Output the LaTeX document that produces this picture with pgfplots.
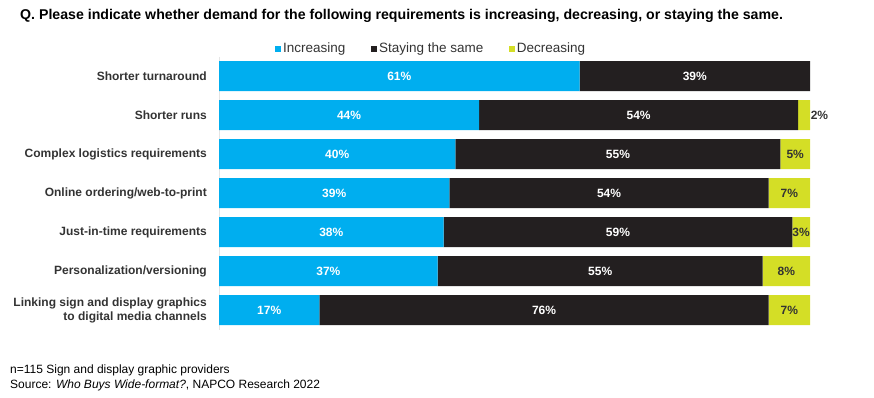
\documentclass[border=0pt]{standalone}
\usepackage{fontspec}
\setmainfont{Liberation Sans}
\usepackage{pgfplots}
\usepackage{pgfplotstable}
\pgfplotsset{compat=1.18}
\definecolor{cInc}{HTML}{00AEEF}
\definecolor{cSame}{HTML}{231F20}
\definecolor{cDec}{HTML}{D4DE26}
\definecolor{cTxt}{HTML}{333333}

% y: row (0 = top); inc / same / dec percentages
\pgfplotstableread{
y inc same dec
0 61 39 0
1 44 54 2
2 40 55 5
3 39 54 7
4 38 59 3
5 37 55 8
6 17 76 7
}\data
% label positions (centre of each segment, in %)
\pgfplotstableread{
y x lab
0 30.5 61\%
1 22 44\%
2 20 40\%
3 19.5 39\%
4 19 38\%
5 18.5 37\%
6 8.5 17\%
0 80.5 39\%
1 71 54\%
2 67.5 55\%
3 66 54\%
4 67.5 59\%
5 64.5 55\%
6 55 76\%
}\whitelab
\pgfplotstableread{
y x lab
1 101.6 2\%
2 97.5 5\%
3 96.5 7\%
4 98.5 3\%
5 96 8\%
6 96.5 7\%
}\darklab

\begin{document}
\begin{tikzpicture}
\path[use as bounding box] (0,0) rectangle (874pt,-398pt);
\node[anchor=base west, font=\bfseries\fontsize{14.15}{16}\selectfont, inner sep=0] at (20pt,-20pt)
  {Q. Please indicate whether demand for the following requirements is increasing, decreasing, or staying the same.};
\begin{axis}[
  at={(219pt,-56.5pt)}, anchor=north west,
  scale only axis, width=591pt, height=273pt,
  xbar stacked, bar width=30pt,
  xmin=0, xmax=100, ymin=-0.5, ymax=6.5, y dir=reverse,
  hide x axis,
  axis y line*=left, y axis line style={draw=gray!20},
  ytick={0,...,6},
  yticklabels={Shorter turnaround, Shorter runs, Complex logistics requirements, Online ordering/web-to-print, Just-in-time requirements, Personalization/versioning, {Linking sign and display graphics\\to digital media channels}},
  yticklabel style={align=right, font=\bfseries\fontsize{12}{14}\selectfont, text=cTxt, inner sep=0pt, xshift=-12pt},
  major tick length=0pt,
  legend style={at={(0.359,1.028)}, anchor=center, legend columns=3, draw=none, fill=none,
    font=\fontsize{13.5}{15}\selectfont, text=cTxt,
    /tikz/every even column/.append style={column sep=23.5pt}},
  legend image code/.code={\fill[#1] (0pt,-3pt) rectangle (6pt,3pt);},
]
\addplot[fill=cInc, draw=none] table[x=inc, y=y] {\data};
\addlegendentry{Increasing}
\addplot[fill=cSame, draw=none] table[x=same, y=y] {\data};
\addlegendentry{Staying the same}
\addplot[fill=cDec, draw=none] table[x=dec, y=y] {\data};
\addlegendentry{Decreasing}
\end{axis}
\begin{axis}[
  at={(219pt,-56.5pt)}, anchor=north west,
  scale only axis, width=591pt, height=273pt,
  xmin=0, xmax=100, ymin=-0.5, ymax=6.5, y dir=reverse,
  hide axis, clip=false,
  point meta=explicit symbolic,
  nodes near coords,
  every node near coord/.append style={anchor=center, inner sep=0pt, font=\bfseries\fontsize{12}{14}\selectfont},
]
\addplot[only marks, mark=none, every node near coord/.append style={text=white}] table[x=x, y=y, meta=lab] {\whitelab};
\addplot[only marks, mark=none, every node near coord/.append style={text=cTxt}] table[x=x, y=y, meta=lab] {\darklab};
\end{axis}
\node[anchor=base west, align=left, font=\fontsize{12}{15}\selectfont, inner sep=0] at (10pt,-388pt)
  {n=115 Sign and display graphic providers\\Source: \textit{Who Buys Wide-format?}, NAPCO Research 2022};
\end{tikzpicture}
\end{document}
